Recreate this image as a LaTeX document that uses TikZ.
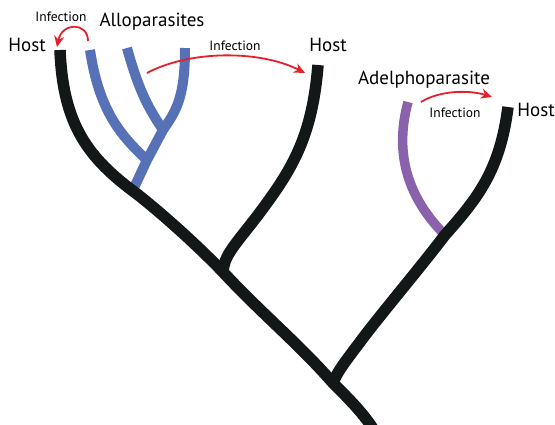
\documentclass[tikz,border=0pt]{standalone}
\usepackage{fontspec}
\setmainfont{PT Sans}
\usetikzlibrary{arrows.meta}
\definecolor{hostc}{HTML}{131717}
\definecolor{alloc}{HTML}{5771B7}
\definecolor{adelc}{HTML}{8A62AB}
\definecolor{infc}{HTML}{E5202A}
\begin{document}
\begin{tikzpicture}[x=1pt,y=-1pt,
        host/.style={draw=hostc,line width=11.5pt},
        allo/.style={draw=alloc,line width=10pt},
        adel/.style={draw=adelc,line width=9.5pt},
        inf/.style={draw=infc,line width=1.8pt,-{Stealth[length=11pt,width=10pt]}},
        big/.style={font=\fontsize{19}{20}\selectfont,inner sep=0pt},
        small/.style={font=\fontsize{13.5}{14}\selectfont,inner sep=0pt}]
        \useasboundingbox (0,0) rectangle (555,424);
        % branch ends and splits
        \coordinate (hA) at (60,50);
        \coordinate (hB) at (318,65);
        \coordinate (hC) at (508,107);
        \coordinate (jAB) at (223,272);
        \coordinate (jBC) at (333,383);
        \coordinate (pD) at (408,102);
        \coordinate (jD) at (445,235);
        \coordinate (a1) at (90,50);
        \coordinate (a2) at (127,48);
        \coordinate (a3) at (185,48);
        \coordinate (ja23) at (163,130);
        \coordinate (ja12) at (147,160);
        \coordinate (ja0) at (133,190);
        % parasites
        \draw[allo] (a1) .. controls (99,110) and (120,135) .. (ja12);
        \draw[allo] (a2) .. controls (140,95) and (150,110) .. (ja23);
        \draw[allo] (a3) .. controls (185,100) and (175,112) .. (ja23) -- (ja12) -- (ja0);
        \draw[adel] (pD) .. controls (395,150) and (405,195) .. (jD);
        % hosts
        \draw[host] (hA) .. controls (63,125) and (88,158) .. (137,194)
            .. controls (165,216) and (200,248) .. (jAB)
            .. controls (260,312) and (300,345) .. (jBC)
            .. controls (350,400) and (365,415) .. (375,432);
        \draw[host] (hB) .. controls (312,140) and (290,172) .. (258,215)
            .. controls (235,245) and (224,255) .. (jAB);
        \draw[host] (hC) .. controls (500,170) and (478,198) .. (jD)
            .. controls (420,268) and (380,315) .. (360,342)
            .. controls (345,362) and (337,372) .. (jBC);
        % labels
        \node[big] (tA) at (27,45) {Host};
        \node[big] (tB) at (328,45) {Host};
        \node[big] (tC) at (536,110) {Host};
        \node[big] (tallo) at (152,22) {Alloparasites};
        \node[big] (tadel) at (424,80) {Adelphoparasite};
        \node[small] (i1) at (61,17) {Infection};
        \node[small] (i2) at (235,46) {Infection};
        \node[small] (i3) at (455,113) {Infection};
        % infections
        \draw[inf] (88,41) .. controls (88,22) and (62,22) .. (57,47);
        \draw[inf] (147,73) .. controls (190,50) and (260,50) .. (305,73);
        \draw[inf] (421,102) .. controls (440,90) and (470,90) .. (492,97);
\end{tikzpicture}
\end{document}
